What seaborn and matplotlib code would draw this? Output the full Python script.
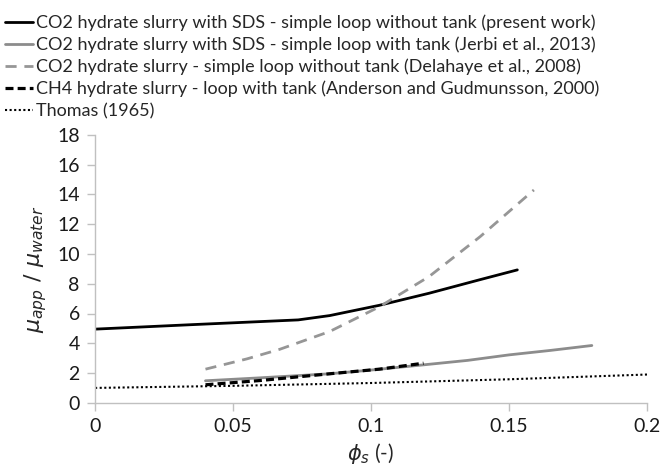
import numpy as np
import pandas as pd
import matplotlib
matplotlib.use("Agg")
import matplotlib.pyplot as plt
import seaborn as sns

# values
present_x = [0.0, 0.035, 0.0736, 0.085, 0.103, 0.121, 0.139, 0.153]
present_y = [4.95, 5.25, 5.57, 5.86, 6.55, 7.36, 8.25, 8.93]

jerbi_x = [0.04, 0.06, 0.085, 0.1, 0.119, 0.135, 0.15, 0.165, 0.18]
jerbi_y = [1.48, 1.68, 1.95, 2.2, 2.55, 2.85, 3.22, 3.52, 3.85]

delahaye_x = [0.04, 0.055, 0.067, 0.085, 0.103, 0.121, 0.1395, 0.159]
delahaye_y = [2.26, 2.95, 3.6, 4.79, 6.45, 8.48, 11.16, 14.3]

anderson_x = [0.04, 0.06, 0.085, 0.103, 0.119]
anderson_y = [1.21, 1.5, 1.95, 2.26, 2.66]

thomas_x = [0.0, 0.05, 0.1, 0.15, 0.2]
thomas_y = [1.0, 1.14, 1.33, 1.58, 1.9]

labels = [
    "CO2 hydrate slurry with SDS - simple loop without tank (present work)",
    "CO2 hydrate slurry with SDS - simple loop with tank (Jerbi et al., 2013)",
    "CO2 hydrate slurry - simple loop without tank (Delahaye et al., 2008)",
    "CH4 hydrate slurry - loop with tank (Anderson and Gudmunsson, 2000)",
    "Thomas (1965)",
]

sns.set_style("white")
plt.rcParams["font.family"] = ["Lato", "DejaVu Sans"]
plt.rcParams["mathtext.fontset"] = "dejavusans"

fig = plt.figure(figsize=(6.65, 4.75), dpi=100)
ax = fig.add_axes([0.143, 0.152, 0.830, 0.564])

grey = "#8c8c8c"
sns.lineplot(x=present_x, y=present_y, ax=ax, color="black", lw=2, label=labels[0])
sns.lineplot(x=jerbi_x, y=jerbi_y, ax=ax, color=grey, lw=2, label=labels[1])
sns.lineplot(x=delahaye_x, y=delahaye_y, ax=ax, color="#969696", lw=2,
             linestyle=(0, (4, 2.8)), label=labels[2])
sns.lineplot(x=anderson_x, y=anderson_y, ax=ax, color="black", lw=2.3,
             linestyle=(0, (2.5, 1.3)), label=labels[3])
sns.lineplot(x=thomas_x, y=thomas_y, ax=ax, color="black", lw=1.5,
             linestyle=(0, (1, 1.2)), label=labels[4])

ax.set_xlim(0, 0.2)
ax.set_ylim(0, 18)
ax.set_xticks([0, 0.05, 0.1, 0.15, 0.2])
ax.set_xticklabels(["0", "0.05", "0.1", "0.15", "0.2"])
ax.set_yticks(range(0, 19, 2))

for s in ["top", "right"]:
    ax.spines[s].set_visible(False)
for s in ["left", "bottom"]:
    ax.spines[s].set_color("#c0c0c0")
    ax.spines[s].set_linewidth(1)
ax.tick_params(direction="out", length=6, width=1, color="#c0c0c0",
               labelsize=14, labelcolor="#1a1a1a", left=True, bottom=True, pad=5)

ax.set_ylabel(r"$\mu_{app}\ /\ \mu_{water}$", fontsize=16, labelpad=6)
ax.set_xlabel(r"$\phi_s$ (-)", fontsize=15, labelpad=4)

h, l = ax.get_legend_handles_labels()
ax.get_legend().remove()
fig.legend(h, l, loc="upper left", bbox_to_anchor=(0.0, 0.98), frameon=False,
           fontsize=13, handlelength=1.5, handletextpad=0.2,
           labelspacing=0.3, borderaxespad=0.1, borderpad=0.2)

fig.savefig("out.png", dpi=100)
